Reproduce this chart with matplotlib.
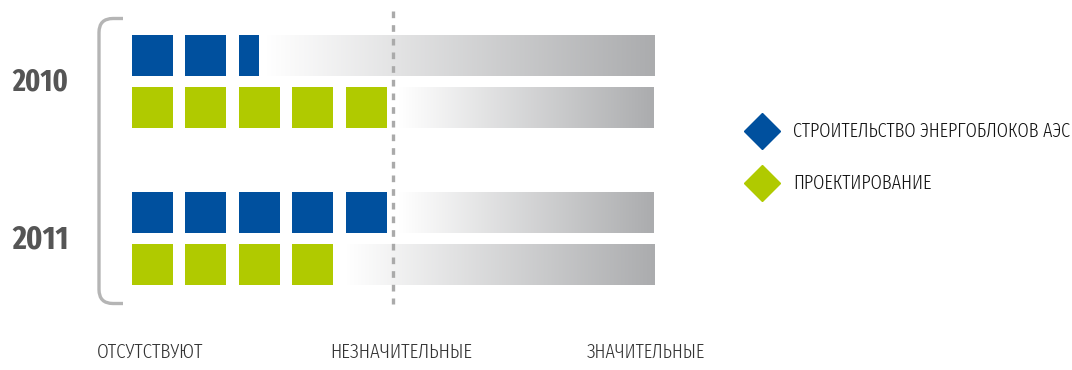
import numpy as np
import matplotlib
matplotlib.use("Agg")
import matplotlib.pyplot as plt
from matplotlib.path import Path
from matplotlib.patches import PathPatch, Rectangle
from matplotlib.colors import LinearSegmentedColormap

# ---- data ----
years = ["2010", "2011"]
series = ["СТРОИТЕЛЬСТВО ЭНЕРГОБЛОКОВ АЭС", "ПРОЕКТИРОВАНИЕ"]
values_2010 = [2.5, 5]      # construction, design
values_2011 = [5, 4]
scale_labels = ["ОТСУТСТВУЮТ", "НЕЗНАЧИТЕЛЬНЫЕ", "ЗНАЧИТЕЛЬНЫЕ"]
scale_positions = [-0.65, 3.7, 8.5]   # label left edge, in slot units
max_slots = 10
threshold = 5

colors = ["#00509e", "#b0ca00"]
FONT = ["Fira Sans Extra Condensed", "DejaVu Sans"]

W, H = 1072, 370
fig = plt.figure(figsize=(W / 100, H / 100), dpi=100)
ax = fig.add_axes([0, 0, 1, 1])
renderer = fig.canvas.get_renderer()

def fit(t, target_w):
    bb = t.get_window_extent(renderer=renderer)
    t.set_fontsize(t.get_fontsize() * target_w / bb.width)

# slot geometry (pixels)
x0_px, pitch_px = 132, 53.5
y0_px, rpitch_px = 55.5, 52.3
sq_w = 41 / pitch_px
sq_h = 41 / rpitch_px
xlim = (-x0_px / pitch_px, (W - x0_px) / pitch_px)
ylim = ((H - y0_px) / rpitch_px, -y0_px / rpitch_px)
ax.axis("off")

grad = LinearSegmentedColormap.from_list("g", ["#ffffff", "#abacae"])

rows = []
for gi, vals in enumerate([values_2010, values_2011]):
    for si, v in enumerate(vals):
        rows.append((gi * 3 + si, si, v))

end_x = (max_slots - 1) + sq_w
for rpos, si, v in rows:
    yc = rpos
    g = np.linspace(0, 1, 256).reshape(1, -1)
    ax.imshow(g, cmap=grad, extent=[v, end_x, yc + sq_h / 2, yc - sq_h / 2],
              aspect="auto", interpolation="bilinear", zorder=1)
    n_full = int(np.floor(v))
    frac = v - n_full
    for k in range(n_full):
        ax.add_patch(Rectangle((k, yc - sq_h / 2), sq_w, sq_h, color=colors[si], lw=0, zorder=2))
    if frac > 0:
        ax.add_patch(Rectangle((n_full, yc - sq_h / 2), sq_w * frac, sq_h, color=colors[si], lw=0, zorder=2))

ax.set_xlim(*xlim)
ax.set_ylim(*ylim)

# dashed threshold line
thr_x = threshold - (1 - sq_w) / 2
ax.plot([thr_x, thr_x], [-45 / rpitch_px, (304 - y0_px) / rpitch_px], color="#aaaaaa", lw=2.4,
        ls=(0, (2.0, 2.1)), zorder=3, solid_capstyle="butt")

# year labels
for gi, yr in enumerate(years):
    yc = gi * 3 + 0.5
    t = ax.text(xlim[0] + 12 / pitch_px, yc + 0.02, yr, fontsize=21, fontweight="bold",
                family=FONT, color="#555555", va="center", ha="left")
    fit(t, 56)

# bracket (figure pixel coords)
tr = fig.transFigure
def px(x, y):
    return (x / W, 1 - y / H)
r = 14
verts = [px(123, 18.5), px(99 + r, 18.5), px(99, 18.5), px(99, 18.5 + r),
         px(99, 303.5 - r), px(99, 303.5), px(99 + r, 303.5), px(123, 303.5)]
codes = [Path.MOVETO, Path.LINETO, Path.CURVE3, Path.CURVE3, Path.LINETO, Path.CURVE3, Path.CURVE3, Path.LINETO]
fig.patches.append(PathPatch(Path(verts, codes), transform=tr, fill=False, ec="#b5b5b5", lw=2.4))

# scale labels
label_widths = [106, 143, 119]
for lab, p, wpx in zip(scale_labels, scale_positions, label_widths):
    t = ax.text(p, (352 - y0_px) / rpitch_px, lab, fontsize=14, family=FONT,
                fontweight=300, color="#333333", va="center", ha="left")
    fit(t, wpx)

# legend
legend_widths = [277, 139]
for si, name in enumerate(series):
    yy = 131 + si * 52
    fig.lines.append(plt.Line2D([762 / W], [1 - yy / H], marker="D", markersize=18,
                                color=colors[si], ls="none", transform=tr))
    t = fig.text(793 / W, 1 - yy / H, name, fontsize=14, family=FONT, fontweight=300,
                 color="#111111", va="center", ha="left")
    fit(t, legend_widths[si])

fig.savefig("out.png", dpi=100)
